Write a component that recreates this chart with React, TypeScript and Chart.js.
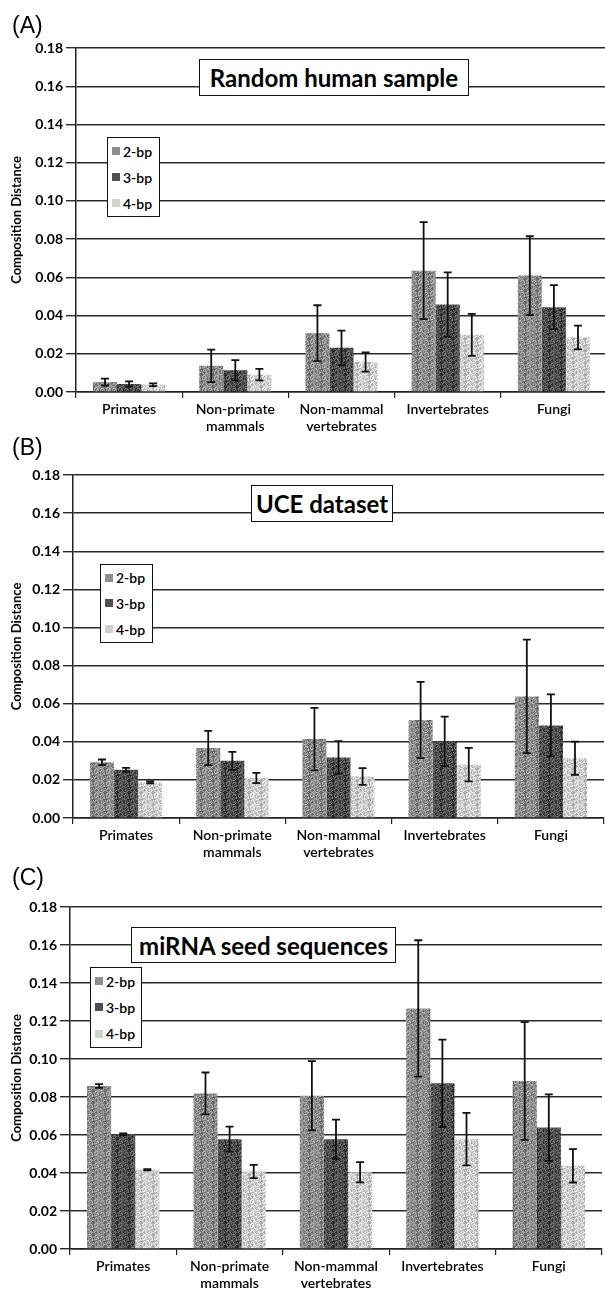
import React, { useEffect, useRef } from 'react';
import { Chart, registerables } from 'chart.js';
Chart.register(...registerables);

const categories = [['Primates'], ['Non-primate', 'mammals'], ['Non-mammal', 'vertebrates'], ['Invertebrates'], ['Fungi']];
const seriesLabels = ['2-bp', '3-bp', '4-bp'];
const yMin = 0;
const yMax = 0.18;
const yStep = 0.02;

// (A) Random human sample
const randomBp2 = [0.0052, 0.0137, 0.0308, 0.0635, 0.0609];
const randomBp2Err = [0.0018, 0.0085, 0.0146, 0.0254, 0.0206];
const randomBp3 = [0.0042, 0.0114, 0.0231, 0.0458, 0.0444];
const randomBp3Err = [0.0014, 0.0053, 0.009, 0.0168, 0.0115];
const randomBp4 = [0.0038, 0.0091, 0.0157, 0.0299, 0.0285];
const randomBp4Err = [0.0007, 0.003, 0.005, 0.011, 0.0062];

// (B) UCE dataset
const uceBp2 = [0.0292, 0.0367, 0.0414, 0.0514, 0.0638];
const uceBp2Err = [0.0015, 0.009, 0.0164, 0.02, 0.0298];
const uceBp3 = [0.0253, 0.03, 0.0318, 0.0402, 0.0486];
const uceBp3Err = [0.001, 0.0047, 0.0085, 0.013, 0.0163];
const uceBp4 = [0.0187, 0.021, 0.0218, 0.028, 0.0314];
const uceBp4Err = [0.0005, 0.0027, 0.0044, 0.0088, 0.0087];

// (C) miRNA seed sequences
const mirnaBp2 = [0.0858, 0.0819, 0.0807, 0.1266, 0.0884];
const mirnaBp2Err = [0.001, 0.011, 0.0182, 0.0359, 0.031];
const mirnaBp3 = [0.0604, 0.0578, 0.0578, 0.0872, 0.0639];
const mirnaBp3Err = [0.0005, 0.0066, 0.0103, 0.023, 0.0175];
const mirnaBp4 = [0.0417, 0.0408, 0.0404, 0.0578, 0.0438];
const mirnaBp4Err = [0.0003, 0.0035, 0.0053, 0.0138, 0.0088];

// base grey level for each series (0-255)
const barGreys = [142, 80, 208];
const FONT = 'Lato, "Open Sans", sans-serif';
const CANVAS_W = 612;

function greyHex(g: number) {
  const h = Math.max(0, Math.min(255, Math.round(g))).toString(16).padStart(2, '0');
  return '#' + h + h + h;
}

// deterministic stipple texture (fixed hash, no randomness)
function makeTexture(base: number): HTMLCanvasElement {
  const c = document.createElement('canvas');
  c.width = 12;
  c.height = 12;
  const ctx = c.getContext('2d')!;
  const img = ctx.createImageData(12, 12);
  for (let y = 0; y < 12; y++) {
    for (let x = 0; x < 12; x++) {
      const h = ((x * 37 + y * 91 + ((x * y) % 7) * 53) % 11) - 5; // -5..5
      const g = Math.max(0, Math.min(255, base + h * 9));
      const k = (y * 12 + x) * 4;
      img.data[k] = g;
      img.data[k + 1] = g;
      img.data[k + 2] = g;
      img.data[k + 3] = 255;
    }
  }
  ctx.putImageData(img, 0, 0);
  return c;
}

type PanelDef = {
  letter: string;
  title: string;
  values: number[][];
  errors: number[][];
  top: number;
  height: number;
  plotTop: number;
  plotBottom: number;
  plotLeft: number;
  plotRight: number;
  titleBox: { left: number; top: number; width: number; height: number };
  legendBox: { left: number; top: number; width: number; height: number };
  letterTop: number;
};

const panels: PanelDef[] = [
  {
    letter: '(A)', title: 'Random human sample',
    values: [randomBp2, randomBp3, randomBp4], errors: [randomBp2Err, randomBp3Err, randomBp4Err],
    top: 0, height: 440, plotTop: 48, plotBottom: 392, plotLeft: 76, plotRight: 607,
    titleBox: { left: 199, top: 59, width: 270, height: 37 },
    legendBox: { left: 107, top: 137, width: 53, height: 80 },
    letterTop: 12,
  },
  {
    letter: '(B)', title: 'UCE dataset',
    values: [uceBp2, uceBp3, uceBp4], errors: [uceBp2Err, uceBp3Err, uceBp4Err],
    top: 430, height: 440, plotTop: 475, plotBottom: 818, plotLeft: 73, plotRight: 604,
    titleBox: { left: 251, top: 485, width: 142, height: 37 },
    legendBox: { left: 100, top: 564, width: 53, height: 79 },
    letterTop: 434,
  },
  {
    letter: '(C)', title: 'miRNA seed sequences',
    values: [mirnaBp2, mirnaBp3, mirnaBp4], errors: [mirnaBp2Err, mirnaBp3Err, mirnaBp4Err],
    top: 860, height: 432, plotTop: 907, plotBottom: 1249, plotLeft: 70, plotRight: 602,
    titleBox: { left: 131, top: 927, width: 265, height: 36 },
    legendBox: { left: 90, top: 967, width: 52, height: 81 },
    letterTop: 864,
  },
];

const errorBarPlugin = {
  id: 'errorBars',
  afterDatasetsDraw(chart: any) {
    const ctx = chart.ctx;
    const yScale = chart.scales.y;
    const errs = chart.options.plugins.errorBars.errors as number[][];
    ctx.save();
    ctx.strokeStyle = '#111';
    ctx.lineWidth = 1.8;
    chart.data.datasets.forEach((ds: any, i: number) => {
      const meta = chart.getDatasetMeta(i);
      meta.data.forEach((bar: any, j: number) => {
        const v = ds.data[j];
        const e = errs[i][j];
        const x = bar.x;
        const yTop = yScale.getPixelForValue(v + e);
        const yBot = yScale.getPixelForValue(v - e);
        const cap = 4;
        ctx.beginPath();
        ctx.moveTo(x, yTop);
        ctx.lineTo(x, yBot);
        ctx.moveTo(x - cap, yTop);
        ctx.lineTo(x + cap, yTop);
        ctx.moveTo(x - cap, yBot);
        ctx.lineTo(x + cap, yBot);
        ctx.stroke();
      });
    });
    ctx.restore();
  },
};

function PanelChart({ p }: { p: PanelDef }) {
  const ref = useRef<HTMLCanvasElement>(null);
  useEffect(() => {
    if (!ref.current) return;
    const ctx = ref.current.getContext('2d')!;
    const fills = barGreys.map((g) => ctx.createPattern(makeTexture(g), 'repeat') || greyHex(g));
    const yTickCount = Math.round((yMax - yMin) / yStep);
    const chart = new Chart(ref.current, {
      type: 'bar',
      data: {
        labels: categories,
        datasets: seriesLabels.map((label, i) => ({
          label,
          data: p.values[i],
          backgroundColor: fills[i],
          borderWidth: 0,
          categoryPercentage: 0.68,
          barPercentage: 1.0,
        })),
      },
      options: {
        responsive: false,
        animation: false,
        devicePixelRatio: 1,
        layout: {
          padding: { top: p.plotTop - p.top, right: CANVAS_W - p.plotRight, left: 0, bottom: 0 },
        },
        plugins: {
          legend: { display: false },
          tooltip: { enabled: false },
          // @ts-ignore
          errorBars: { errors: p.errors },
        },
        scales: {
          x: {
            type: 'category',
            offset: true,
            grid: { display: true, drawOnChartArea: false, drawTicks: true, tickLength: 6, color: '#222', lineWidth: 1.2, offset: true },
            border: { display: true, color: '#222', width: 1.5 },
            ticks: { color: '#000', font: { family: FONT, size: 14, weight: '600' }, padding: 3, maxRotation: 0, autoSkip: false },
            afterFit: (s: any) => { s.height = p.top + p.height - p.plotBottom; },
          },
          y: {
            min: yMin,
            max: yMax,
            ticks: {
              stepSize: yStep,
              count: yTickCount + 1,
              color: '#000',
              font: { family: FONT, size: 14, weight: 'bold' },
              padding: 3,
              callback: (v: any) => Number(v).toFixed(2),
            },
            grid: { color: '#2a2a2a', lineWidth: 1.4, tickLength: 10 },
            border: { display: true, color: '#222', width: 1.5 },
            title: {
              display: true,
              text: 'Composition Distance',
              color: '#000',
              font: { family: FONT, size: 13, weight: 'bold' },
              padding: { top: 9, bottom: 0 },
            },
            afterFit: (s: any) => { s.width = p.plotLeft; },
          },
        },
      } as any,
      plugins: [errorBarPlugin],
    });
    return () => chart.destroy();
  }, [p]);
  return (
    <canvas
      ref={ref}
      width={CANVAS_W}
      height={p.height}
      style={{ position: 'absolute', left: 0, top: p.top, width: CANVAS_W, height: p.height }}
    />
  );
}

function Overlay({ p }: { p: PanelDef }) {
  return (
    <>
      <div style={{ position: 'absolute', left: 12, top: p.letterTop, fontFamily: '"Liberation Sans", Arial, sans-serif', fontSize: 23, color: '#000', lineHeight: '26px' }}>
        {p.letter}
      </div>
      <div
        style={{
          position: 'absolute', left: p.titleBox.left, top: p.titleBox.top, width: p.titleBox.width, height: p.titleBox.height,
          boxSizing: 'border-box', border: '1.5px solid #111', background: '#fff', display: 'flex', alignItems: 'center',
          justifyContent: 'center', fontFamily: FONT, fontWeight: 'bold', fontSize: 24, color: '#000', whiteSpace: 'nowrap',
        }}
      >
        {p.title}
      </div>
      <div
        style={{
          position: 'absolute', left: p.legendBox.left, top: p.legendBox.top, width: p.legendBox.width, height: p.legendBox.height,
          boxSizing: 'border-box', border: '1.5px solid #111', background: '#fff', display: 'flex', flexDirection: 'column',
          justifyContent: 'space-around', paddingLeft: 4, fontFamily: FONT, fontSize: 14, fontWeight: 600, color: '#000',
        }}
      >
        {seriesLabels.map((s, i) => (
          <div key={s} style={{ display: 'flex', alignItems: 'center', whiteSpace: 'nowrap' }}>
            <span style={{ display: 'inline-block', width: 8, height: 8, background: greyHex(barGreys[i]), marginRight: 3 }} />
            {s}
          </div>
        ))}
      </div>
    </>
  );
}

export default function App() {
  return (
    <div style={{ position: 'absolute', left: 0, top: 0, width: 605, height: 1292, overflow: 'hidden', background: '#fff' }}>
      {panels.map((p) => (
        <PanelChart key={p.letter} p={p} />
      ))}
      {panels.map((p) => (
        <Overlay key={'o' + p.letter} p={p} />
      ))}
    </div>
  );
}
